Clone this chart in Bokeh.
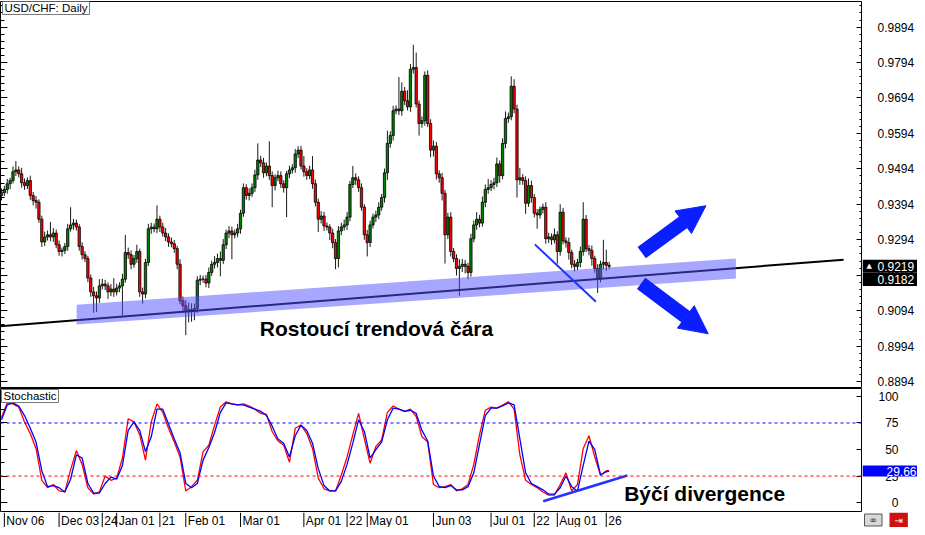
from bokeh.plotting import figure
from bokeh.models import (ColumnDataSource, Range1d, LinearAxis, FixedTicker, Label,
                          Arrow, NormalHead, Span)
from bokeh.layouts import column, row
from bokeh.embed import file_html
from bokeh.resources import INLINE
from bokeh.core.properties import value

# ---------------- data (USD/CHF daily) ----------------
first_open = 0.9419
close = [0.9427, 0.9436, 0.9452, 0.9461, 0.9486, 0.9491, 0.9480, 0.9455, 0.9447, 0.9461,
         0.9419, 0.9405, 0.9400, 0.9352, 0.9288, 0.9302, 0.9308, 0.9302, 0.9313, 0.9280,
         0.9261, 0.9264, 0.9275, 0.9325, 0.9336, 0.9341, 0.9330, 0.9275, 0.9252, 0.9241,
         0.9186, 0.9147, 0.9136, 0.9130, 0.9164, 0.9169, 0.9164, 0.9147, 0.9155, 0.9147,
         0.9158, 0.9164, 0.9183, 0.9258, 0.9252, 0.9225, 0.9241, 0.9261, 0.9147, 0.9141,
         0.9230, 0.9325, 0.9330, 0.9325, 0.9352, 0.9330, 0.9313, 0.9302, 0.9288, 0.9283,
         0.9269, 0.9225, 0.9122, 0.9108, 0.9091, 0.9097, 0.9091, 0.9100, 0.9180, 0.9183,
         0.9183, 0.9172, 0.9202, 0.9225, 0.9230, 0.9241, 0.9236, 0.9280, 0.9313, 0.9319,
         0.9308, 0.9313, 0.9325, 0.9369, 0.9441, 0.9419, 0.9425, 0.9441, 0.9477, 0.9519,
         0.9511, 0.9483, 0.9502, 0.9475, 0.9447, 0.9469, 0.9475, 0.9452, 0.9441, 0.9480,
         0.9491, 0.9497, 0.9536, 0.9547, 0.9502, 0.9486, 0.9475, 0.9491, 0.9452, 0.9400,
         0.9352, 0.9361, 0.9333, 0.9330, 0.9313, 0.9286, 0.9241, 0.9319, 0.9330, 0.9336,
         0.9358, 0.9450, 0.9469, 0.9463, 0.9441, 0.9386, 0.9308, 0.9286, 0.9336, 0.9358,
         0.9364, 0.9386, 0.9413, 0.9483, 0.9566, 0.9588, 0.9658, 0.9663, 0.9658, 0.9713,
         0.9686, 0.9669, 0.9775, 0.9780, 0.9677, 0.9622, 0.9630, 0.9758, 0.9622, 0.9547,
         0.9558, 0.9480, 0.9469, 0.9425, 0.9308, 0.9358, 0.9261, 0.9241, 0.9213, 0.9219,
         0.9225, 0.9219, 0.9202, 0.9297, 0.9336, 0.9352, 0.9341, 0.9400, 0.9436, 0.9441,
         0.9450, 0.9455, 0.9508, 0.9475, 0.9566, 0.9636, 0.9641, 0.9727, 0.9663, 0.9463,
         0.9469, 0.9461, 0.9397, 0.9447, 0.9413, 0.9369, 0.9364, 0.9380, 0.9386, 0.9297,
         0.9302, 0.9294, 0.9308, 0.9261, 0.9372, 0.9291, 0.9286, 0.9258, 0.9225, 0.9219,
         0.9230, 0.9261, 0.9352, 0.9269, 0.9264, 0.9241, 0.9213, 0.9186, 0.9225, 0.9230,
         0.9222, 0.9219]

# wick lengths in pips above / below the candle body
up_wick = [12, 10, 14, 8, 15, 25, 10, 17, 12, 9,
           14, 10, 12, 8, 10, 15, 12, 36, 14, 10,
           12, 8, 10, 14, 50, 12, 10, 8, 12, 10,
           8, 10, 14, 12, 19, 15, 12, 10, 14, 31,
           12, 10, 15, 50, 14, 12, 10, 19, 8, 12,
           10, 14, 12, 10, 39, 10, 12, 14, 10, 12,
           10, 8, 14, 12, 16, 20, 18, 14, 11, 12,
           10, 12, 14, 10, 18, 14, 20, 16, 10, 14,
           12, 10, 14, 10, 12, 10, 14, 12, 15, 47,
           12, 14, 10, 70, 12, 10, 14, 12, 10, 8,
           12, 10, 14, 11, 12, 28, 10, 12, 39, 12,
           10, 14, 12, 10, 8, 12, 10, 14, 12, 15,
           14, 10, 33, 12, 10, 12, 8, 14, 12, 10,
           12, 14, 10, 12, 36, 12, 14, 10, 90, 25,
           12, 30, 15, 64, 42, 10, 12, 11, 14, 12,
           16, 12, 10, 14, 10, 12, 14, 10, 12, 20,
           15, 12, 10, 14, 12, 20, 12, 16, 14, 24,
           12, 14, 18, 10, 14, 20, 12, 28, 20, 12,
           28, 10, 12, 20, 14, 10, 12, 8, 10, 14,
           12, 10, 18, 10, 22, 12, 10, 14, 8, 12,
           10, 14, 48, 12, 10, 14, 8, 12, 10, 64,
           36, 10]
down_wick = [14, 10, 12, 15, 8, 12, 10, 14, 12, 10,
             12, 14, 18, 10, 14, 12, 10, 12, 14, 10,
             12, 14, 10, 12, 8, 14, 10, 12, 14, 10,
             12, 14, 48, 40, 14, 10, 12, 20, 12, 14,
             10, 12, 84, 10, 12, 14, 10, 12, 14, 27,
             12, 10, 14, 10, 12, 14, 10, 12, 14, 10,
             12, 14, 10, 20, 66, 30, 28, 24, 12, 14,
             10, 12, 14, 10, 12, 14, 45, 10, 12, 14,
             69, 10, 12, 14, 10, 12, 14, 10, 12, 14,
             12, 14, 10, 12, 61, 14, 10, 12, 14, 83,
             12, 10, 14, 12, 10, 14, 12, 10, 14, 12,
             36, 12, 14, 10, 20, 16, 30, 25, 12, 10,
             14, 12, 10, 14, 12, 10, 14, 39, 12, 10,
             14, 12, 10, 14, 20, 12, 14, 10, 12, 14,
             12, 10, 14, 12, 10, 34, 12, 14, 10, 20,
             18, 16, 14, 20, 81, 12, 14, 10, 20, 77,
             16, 20, 19, 12, 10, 14, 12, 10, 14, 12,
             10, 14, 12, 20, 10, 14, 12, 10, 12, 50,
             14, 12, 30, 10, 14, 12, 39, 10, 12, 14,
             12, 14, 10, 34, 12, 10, 14, 20, 12, 14,
             10, 14, 12, 10, 14, 20, 12, 42, 12, 14,
             16, 8]

# Stochastic oscillator, sampled on every second bar (plus the last bar)
stoch_bar = list(range(0, 211, 2)) + [211]
stoch_k = [80, 94, 93, 90, 76, 65, 51, 21, 14, 17, 11, 10, 31, 49, 36, 14, 8, 10, 25, 21,
           23, 42, 79, 76, 64, 40, 76, 93, 85, 70, 57, 43, 11, 15, 21, 48, 54, 73, 90, 95,
           93, 92, 93, 91, 88, 84, 83, 67, 58, 54, 38, 70, 73, 65, 51, 23, 13, 11, 11, 26,
           43, 64, 84, 60, 37, 53, 59, 85, 91, 88, 86, 88, 81, 62, 57, 17, 14, 15, 17, 11,
           13, 17, 36, 64, 87, 90, 89, 92, 95, 88, 45, 21, 17, 14, 10, 7, 7, 17, 28, 11,
           17, 51, 63, 43, 26, 30, 30]
stoch_d = [78, 92, 94, 91, 82, 70, 57, 30, 15, 16, 14, 10, 22, 45, 42, 18, 9, 9, 18, 24,
           22, 35, 68, 76, 68, 48, 62, 88, 88, 74, 60, 47, 18, 14, 18, 40, 52, 66, 85, 94,
           93, 92, 92, 90, 88, 86, 82, 72, 60, 56, 43, 63, 73, 68, 56, 32, 16, 11, 11, 20,
           36, 56, 78, 67, 42, 50, 57, 78, 89, 88, 86, 87, 84, 68, 58, 25, 15, 14, 16, 12,
           12, 15, 28, 55, 82, 89, 89, 91, 94, 92, 60, 28, 18, 15, 12, 8, 8, 14, 25, 15,
           11, 35, 58, 50, 26, 29, 29.66]

# date axis (bar index of each labelled day)
date_bar = [1, 20, 35, 40, 55, 64, 83, 105, 120, 127, 150, 170, 185, 193, 210]
date_text = ["Nov 06", "Dec 03", "24", "Jan 01", "21", "Feb 01", "Mar 01", "Apr 01",
             "22", "May 01", "Jun 03", "Jul 01", "22", "Aug 01", "26"]

price_ticks = [0.8894, 0.8994, 0.9094, 0.9194, 0.9294, 0.9394, 0.9494, 0.9594,
               0.9694, 0.9794, 0.9894]
stoch_ticks = [0, 25, 50, 75, 100]
stoch_text = ["0", "25", "50", "75", "100"]

# drawn annotations (bar index, price)
trend_x = [-1.0, 292.4]
trend_y = [0.9050, 0.9238]
band_x = [26.1, 255.0]
band_mid = [0.9083, 0.9213]
band_half = 0.0028
fall_x = [185.2, 206.4]
fall_y = [0.9281, 0.9119]
arrow_up = (222.3, 0.9258, 244.6, 0.9390)
arrow_down = (222.1, 0.9171, 245.4, 0.9029)
div_x = [188.1, 217.3]
div_y = [1.2, 25.5]
bid_price = 0.9219
line_price = 0.9182
stoch_last = 29.66

# ---------------- derived ----------------
n = len(close)
bars = list(range(n))
opens = [first_open] + close[:-1]
high = [max(o, c) + u / 10000 for o, c, u in zip(opens, close, up_wick)]
low = [min(o, c) - d / 10000 for o, c, d in zip(opens, close, down_wick)]
src = ColumnDataSource(dict(
    x=bars, high=high, low=low,
    top=[max(o, c) for o, c in zip(opens, close)],
    bottom=[min(o, c) for o, c in zip(opens, close)],
    color=["#008000" if c >= o else "#FF0000" for o, c in zip(opens, close)],
))

FONT = "Liberation Sans"
PW = 862        # chart width
AW = 55         # price-scale strip width
x_rng = Range1d(-0.34, 298.97)
minor_price = [round(0.8874 + 0.002 * k, 4) for k in range(60)]


def pad(left, right, top, bottom):
    return (left, right, top, bottom)


def base_fig(w, h, xr, yr, top=0, bottom=0):
    f = figure(width=w, height=h, x_range=xr, y_range=yr, output_backend="svg",
               toolbar_location=None, x_axis_location=None, y_axis_location=None,
               min_border_left=0, min_border_right=0, min_border_top=top,
               min_border_bottom=bottom)
    f.xgrid.visible = False
    f.ygrid.visible = False
    f.outline_line_color = "black"
    f.outline_line_width = 1
    f.background_fill_color = "white"
    f.border_fill_color = "white"
    return f


def tick_axis(f, side, ticks, minor, major_len, minor_len, line=None):
    ax = LinearAxis(ticker=FixedTicker(ticks=ticks, minor_ticks=minor),
                    major_tick_in=major_len, major_tick_out=0,
                    minor_tick_in=minor_len, minor_tick_out=0,
                    major_label_text_font_size="1px", major_label_text_color=None,
                    major_label_standoff=0, axis_line_color=line,
                    major_tick_line_color="black", minor_tick_line_color="black")
    f.add_layout(ax, side)


def scale_strip(h, yr, top=0, bottom=0):
    s = base_fig(AW, h, Range1d(0, 1), yr, top, bottom)
    s.outline_line_color = None
    return s


# ---------------- main price panel ----------------
y1 = Range1d(0.88773, 0.99662)
p1 = base_fig(PW, 388, x_rng, y1, top=1, bottom=1)
tick_axis(p1, "left", price_ticks, minor_price, 7, 4)
tick_axis(p1, "right", price_ticks, minor_price, 6, 3, line="black")

p1.segment(x0="x", y0="high", x1="x", y1="low", source=src, line_color="#1a1a1a",
           line_width=1)
p1.vbar(x="x", top="top", bottom="bottom", width=0.8, source=src, fill_color="color",
        line_color="black", line_width=0.8)

p1.line(trend_x, trend_y, line_color="black", line_width=2)
p1.patch([band_x[0], band_x[1], band_x[1], band_x[0]],
         [band_mid[0] + band_half, band_mid[1] + band_half,
          band_mid[1] - band_half, band_mid[0] - band_half],
         fill_color="#5050FF", fill_alpha=0.5, line_color=None)
p1.line(fall_x, fall_y, line_color="#2233FF", line_width=2)

BLUE = "#0A1EFF"
for (xs, ys, xe, ye) in (arrow_up, arrow_down):
    p1.add_layout(Arrow(end=NormalHead(size=28, fill_color=BLUE, line_color=BLUE),
                        x_start=xs, y_start=ys, x_end=xe, y_end=ye,
                        line_color=BLUE, line_width=14))

p1.add_layout(Label(x=89.7, y=0.9044, text="Rostoucí trendová čára", text_font=FONT,
                    text_font_size="21px", text_font_style="bold", text_color="black",
                    text_align="left", text_baseline="middle"))
p1.add_layout(Label(x=2, y=386, x_units="screen", y_units="screen", text="USD/CHF: Daily",
                    text_font=FONT, text_font_size="11.5px", text_color="black",
                    text_align="left", text_baseline="top", background_fill_color="white",
                    border_line_color="#7a7a7a", padding=pad(2, 2, 0, 1)))

s1 = scale_strip(388, y1, top=1, bottom=1)
s1.text(x=[0] * len(price_ticks), y=price_ticks, text=["%.4f" % t for t in price_ticks],
        x_offset=15, text_font=value(FONT), text_font_size="12px", text_color="black",
        text_align="left", text_baseline="middle")
for pr in (bid_price, line_price):
    s1.add_layout(Label(x=0, y=pr, text="%.4f" % pr, text_font=FONT,
                        text_font_size="12px", text_color="white", text_align="left",
                        text_baseline="middle", background_fill_color="black",
                        padding=pad(15, 6, 2, 2)))
s1.add_layout(Label(x=0, y=bid_price, x_offset=4, text="▲", text_font="DejaVu Sans",
                    text_font_size="7px", text_color="white", text_align="left",
                    text_baseline="middle"))

# ---------------- stochastic panel ----------------
y2 = Range1d(-9.35, 107.5)
p2 = base_fig(PW, 124, x_rng, y2)
tick_axis(p2, "left", stoch_ticks, [12.5, 37.5, 62.5, 87.5], 7, 4)
tick_axis(p2, "right", stoch_ticks, [], 6, 0, line="black")
p2.add_layout(Span(location=75, dimension="width", line_color="#0000FF", line_dash="3 3",
                   line_width=1))
p2.add_layout(Span(location=25, dimension="width", line_color="#FF0000", line_dash="3 3",
                   line_width=1))
p2.line(stoch_bar, stoch_k, line_color="#FF0000", line_width=1.3)
p2.line(stoch_bar, stoch_d, line_color="#0000FF", line_width=1.3)
p2.line(div_x, div_y, line_color="#2233FF", line_width=2.5)
p2.add_layout(Label(x=216.2, y=8.4, text="Býčí divergence", text_font=FONT,
                    text_font_size="21px", text_font_style="bold", text_color="black",
                    text_align="left", text_baseline="middle"))
p2.add_layout(Label(x=1, y=123, x_units="screen", y_units="screen", text="Stochastic",
                    text_font=FONT, text_font_size="11.5px", text_color="black",
                    text_align="left", text_baseline="top", background_fill_color="white",
                    border_line_color="#7a7a7a", padding=pad(2, 2, 0, 1)))

s2 = scale_strip(124, y2)
s2.text(x=[0] * len(stoch_ticks), y=stoch_ticks, text=stoch_text, x_offset=36,
        text_font=value(FONT), text_font_size="12px", text_color="black",
        text_align="right", text_baseline="middle")
s2.add_layout(Label(x=0, y=stoch_last, text="%.2f" % stoch_last, text_font=FONT,
                    text_font_size="12px", text_color="white", text_align="left",
                    text_baseline="middle", background_fill_color="#0000FF",
                    padding=pad(24, 6, 1, 1)))

# ---------------- date strip ----------------
p3 = base_fig(PW, 15, x_rng, Range1d(0, 1))
p3.outline_line_color = None
p3.segment(x0=date_bar, y0=[0] * len(date_bar), x1=date_bar, y1=[1] * len(date_bar),
           line_color="black", line_width=1)
p3.text(x=date_bar, y=[0.45] * len(date_bar), text=date_text, x_offset=2,
        text_font=value(FONT), text_font_size="12px", text_color="black",
        text_align="left", text_baseline="middle")

s3 = scale_strip(15, Range1d(0, 1))
s3.add_layout(Label(x=0, y=0.5, x_offset=2, text="\u221e", text_font="DejaVu Sans",
                    text_font_size="9px", text_color="black", text_align="left",
                    text_baseline="middle", background_fill_color="#d8d8d8",
                    border_line_color="#555555", padding=pad(5, 5, 1, 1)))
s3.add_layout(Label(x=0, y=0.5, x_offset=27, text="\u21e5", text_font="DejaVu Sans",
                    text_font_size="10px", text_color="white", text_align="left",
                    text_baseline="middle", background_fill_color="#d01010",
                    padding=pad(5, 5, 2, 2)))

layout = column(row(p1, s1), row(p2, s2), row(p3, s3))
open("out.html", "w").write(file_html(layout, INLINE))
